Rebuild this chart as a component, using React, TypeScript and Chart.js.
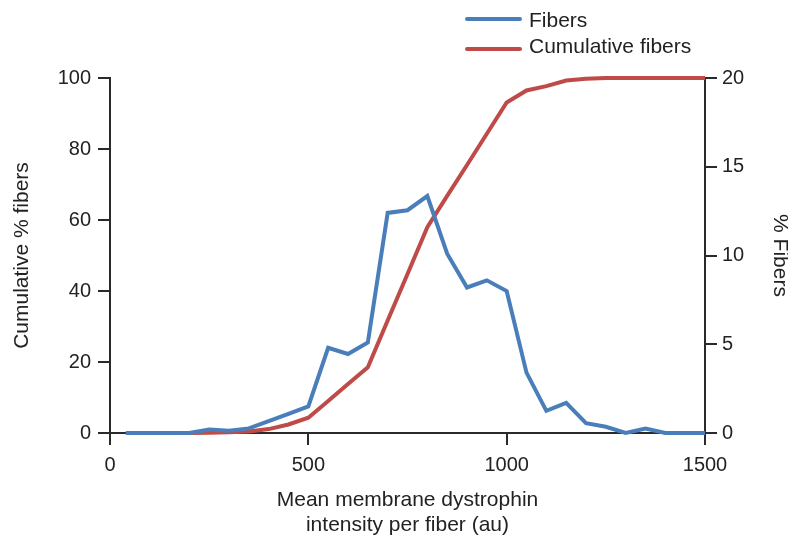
import React, { useEffect, useRef } from "react";
import { Chart, registerables } from "chart.js";

Chart.register(...registerables);

// ---- Data ----
const intensityValues = [40, 100, 150, 200, 250, 300, 350, 400, 450, 500, 550, 600, 650, 700, 750, 800, 850, 900, 950, 1000, 1050, 1100, 1150, 1200, 1250, 1300, 1350, 1400, 1450, 1500];
const fibersPct = [0, 0, 0, 0, 0.2, 0.13, 0.26, 0.67, 1.08, 1.5, 4.8, 4.45, 5.1, 12.4, 12.55, 13.35, 10.1, 8.2, 8.6, 8.0, 3.4, 1.25, 1.7, 0.55, 0.35, 0, 0.25, 0, 0, 0];
const cumulativePct = [0, 0, 0, 0, 0.1, 0.2, 0.4, 1.1, 2.4, 4.3, 9.0, 13.8, 18.5, 31.7, 44.8, 58.0, 66.8, 75.5, 84.3, 93.1, 96.5, 97.7, 99.3, 99.8, 100, 100, 100, 100, 100, 100];

const seriesLabels = ["Fibers", "Cumulative fibers"];
const xTitle = ["Mean membrane dystrophin", "intensity per fiber (au)"];
const yLeftTitle = "Cumulative % fibers";
const yRightTitle = "% Fibers";

const FONT = "'Liberation Sans', Arial, Helvetica, sans-serif";
const TEXT = "#222222";
const AXIS = "#2a2a2a";
const BLUE = "#4A7EBB";
const RED = "#BE4B48";

const legendPlugin = {
  id: "stackedLegend",
  afterDraw(chart: any) {
    const { ctx } = chart;
    const rows = [
      { ds: chart.data.datasets[0], lineY: 19, textY: 27 },
      { ds: chart.data.datasets[1], lineY: 49, textY: 52.5 },
    ];
    ctx.save();
    ctx.font = `21px ${FONT}`;
    ctx.textBaseline = "alphabetic";
    ctx.textAlign = "left";
    for (const r of rows) {
      ctx.strokeStyle = r.ds.borderColor;
      ctx.lineWidth = 4;
      ctx.lineCap = "round";
      ctx.beginPath();
      ctx.moveTo(467, r.lineY);
      ctx.lineTo(520, r.lineY);
      ctx.stroke();
      ctx.fillStyle = TEXT;
      ctx.fillText(r.ds.label, 529, r.textY);
    }
    ctx.restore();
  },
};

const plainNumber = (v: any) => String(v);

export default function App() {
  const canvasRef = useRef<HTMLCanvasElement | null>(null);

  useEffect(() => {
    if (!canvasRef.current) return;
    const chart = new Chart(canvasRef.current, {
      type: "line",
      data: {
        datasets: [
          {
            label: seriesLabels[0],
            data: intensityValues.map((x, i) => ({ x, y: fibersPct[i] })),
            borderColor: BLUE,
            backgroundColor: BLUE,
            borderWidth: 4,
            pointRadius: 0,
            tension: 0,
            yAxisID: "y1",
            clip: false as any,
          },
          {
            label: seriesLabels[1],
            data: intensityValues.map((x, i) => ({ x, y: cumulativePct[i] })),
            borderColor: RED,
            backgroundColor: RED,
            borderWidth: 4,
            pointRadius: 0,
            tension: 0,
            yAxisID: "y",
            clip: false as any,
          },
        ],
      },
      options: {
        animation: false,
        responsive: false,
        maintainAspectRatio: false,
        layout: { padding: { top: 78, left: 0, right: 0, bottom: 0 } },
        plugins: {
          legend: { display: false },
          tooltip: { enabled: false },
        },
        scales: {
          x: {
            type: "linear",
            min: 0,
            max: 1500,
            position: "bottom",
            afterFit: (s: any) => { s.height = 104; },
            ticks: { stepSize: 500, color: TEXT, font: { family: FONT, size: 20 }, padding: 8, maxRotation: 0, callback: plainNumber },
            grid: { drawOnChartArea: false, drawTicks: true, tickLength: 12, color: AXIS, lineWidth: 2 },
            border: { display: true, color: AXIS, width: 2 },
            title: {
              display: true,
              text: xTitle,
              color: TEXT,
              font: { family: FONT, size: 21, lineHeight: 1.2 },
              padding: { top: 0, bottom: -1 },
            },
          },
          y: {
            type: "linear",
            position: "left",
            min: 0,
            max: 100,
            afterFit: (s: any) => { s.width = 110; },
            ticks: { stepSize: 20, color: TEXT, font: { family: FONT, size: 20 }, padding: 7, callback: plainNumber },
            grid: { drawOnChartArea: false, drawTicks: true, tickLength: 12, color: AXIS, lineWidth: 2 },
            border: { display: true, color: AXIS, width: 2 },
            title: {
              display: true,
              text: yLeftTitle,
              color: TEXT,
              font: { family: FONT, size: 21, lineHeight: 1.2 },
              padding: { top: 10, bottom: 0 },
            },
          },
          y1: {
            type: "linear",
            position: "right",
            min: 0,
            max: 20,
            afterFit: (s: any) => { s.width = 83; },
            ticks: { stepSize: 5, color: TEXT, font: { family: FONT, size: 20 }, padding: 5, callback: plainNumber },
            grid: { drawOnChartArea: false, drawTicks: true, tickLength: 12, color: AXIS, lineWidth: 2 },
            border: { display: true, color: AXIS, width: 2 },
            title: {
              display: true,
              text: yRightTitle,
              color: TEXT,
              font: { family: FONT, size: 21, lineHeight: 1 },
              padding: { top: -2, bottom: 0 },
            },
          },
        },
      },
      plugins: [legendPlugin],
    } as any);
    return () => chart.destroy();
  }, []);

  return (
    <div style={{ position: "absolute", left: 0, top: 0, width: 788, height: 537, background: "#fff" }}>
      <canvas ref={canvasRef} width={788} height={537} style={{ display: "block" }} />
    </div>
  );
}
